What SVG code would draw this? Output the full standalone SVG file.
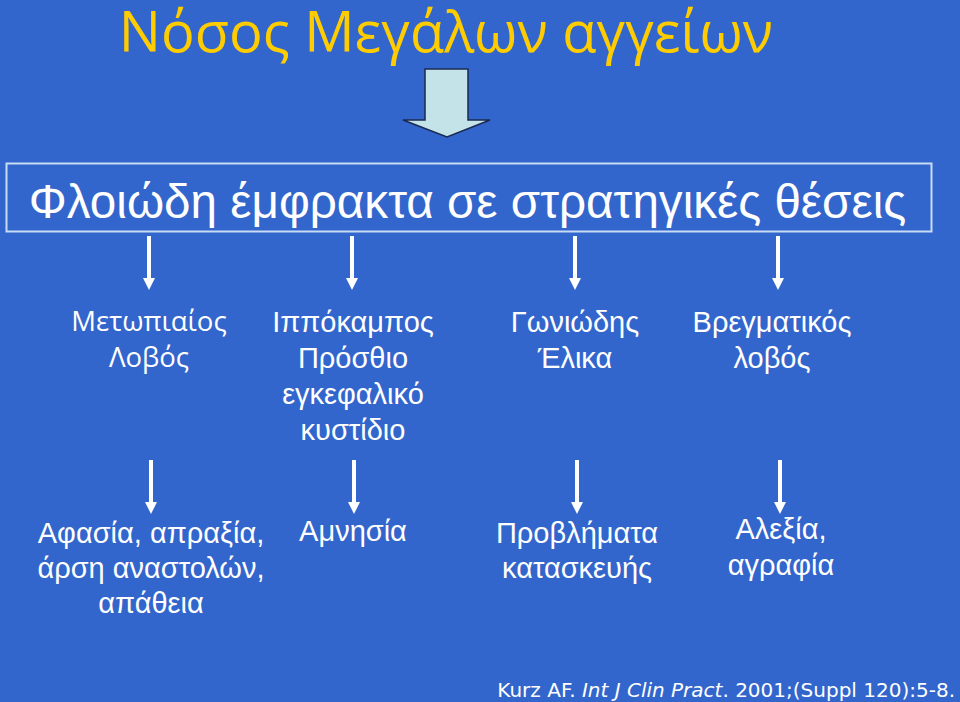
<svg xmlns="http://www.w3.org/2000/svg" width="960" height="702" viewBox="0 0 960 702">
<defs>
<style>
.t{font-family:"Liberation Sans",Arial,sans-serif;fill:#ffffff;text-anchor:middle;font-size:29px}
.o{font-family:"Open Sans",sans-serif;fill:#ffffff;text-anchor:middle;font-size:27.5px}
.c{stroke:#ffffff;stroke-width:4;fill:none}
.h{fill:#ffffff}
</style>
</defs>
<rect x="0" y="0" width="960" height="702" fill="#3366cc"/>
<text x="446" y="52" font-family="'Open Sans',sans-serif" font-size="56" fill="#ffcc00" text-anchor="middle">Νόσος Μεγάλων αγγείων</text>
<g id="bigarrow">
<polygon points="425,69 468,69 468,120 490,120 447,137 403,120 425,120" fill="#c4e3e8" stroke="#1a2a50" stroke-width="1.5"/>
</g>
<g id="main">
<rect x="6.5" y="163.5" width="925" height="68" fill="none" stroke="#c8dcf4" stroke-width="2"/>
<text x="467.5" y="218" font-family="'Liberation Sans',Arial,sans-serif" font-size="47.6" fill="#ffffff" text-anchor="middle">Φλοιώδη έμφρακτα σε στρατηγικές θέσεις</text>
</g>
<g id="connectors">
<line class="c" x1="149" y1="236" x2="149" y2="279"/><polygon class="h" points="143,278 155,278 149,290"/>
<line class="c" x1="352" y1="236" x2="352" y2="279"/><polygon class="h" points="346,278 358,278 352,290"/>
<line class="c" x1="575" y1="236" x2="575" y2="279"/><polygon class="h" points="569,278 581,278 575,290"/>
<line class="c" x1="778" y1="236" x2="778" y2="279"/><polygon class="h" points="772,278 784,278 778,290"/>
<line class="c" x1="151" y1="460" x2="151" y2="503"/><polygon class="h" points="145,502 157,502 151,514"/>
<line class="c" x1="354" y1="460" x2="354" y2="503"/><polygon class="h" points="348,502 360,502 354,514"/>
<line class="c" x1="577" y1="460" x2="577" y2="503"/><polygon class="h" points="571,502 583,502 577,514"/>
<line class="c" x1="780" y1="460" x2="780" y2="503"/><polygon class="h" points="774,502 786,502 780,514"/>
</g>
<g id="n1"><text class="o" x="149" y="331">Μετωπιαίος</text><text class="o" x="149" y="367">Λοβός</text></g>
<g id="n2"><text class="t" x="353" y="332">Ιππόκαμπος</text><text class="t" x="353" y="368">Πρόσθιο</text><text class="t" x="353" y="404">εγκεφαλικό</text><text class="t" x="353" y="440">κυστίδιο</text></g>
<g id="n3"><text class="t" x="575" y="332">Γωνιώδης</text><text class="t" x="575" y="368">Έλικα</text></g>
<g id="n4"><text class="t" x="772" y="332">Βρεγματικός</text><text class="t" x="772" y="368">λοβός</text></g>
<g id="n5"><text class="t" x="151" y="543">Αφασία, απραξία,</text><text class="t" x="151" y="578">άρση αναστολών,</text><text class="t" x="151" y="613">απάθεια</text></g>
<g id="n6"><text class="t" x="353" y="541">Αμνησία</text></g>
<g id="n7"><text class="t" x="577" y="543">Προβλήματα</text><text class="t" x="577" y="578">κατασκευής</text></g>
<g id="n8"><text class="t" x="781" y="539">Αλεξία,</text><text class="t" x="781" y="575">αγραφία</text></g>
<text x="955" y="697" font-family="'DejaVu Sans',sans-serif" font-size="20" fill="#ffffff" text-anchor="end">Kurz AF. <tspan font-style="italic">Int J Clin Pract</tspan>. 2001;(Suppl 120):5-8.</text>
</svg>
